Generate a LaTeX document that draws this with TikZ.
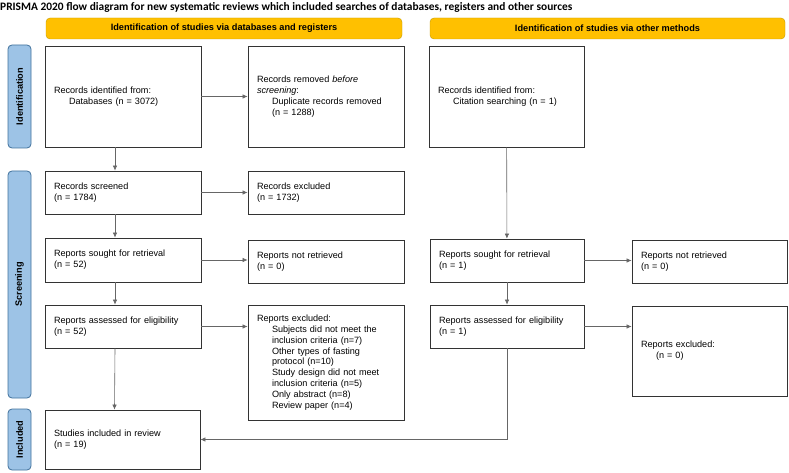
\documentclass[tikz,border=0pt]{standalone}
\usepackage{fontspec}
\setmainfont{Liberation Sans}
\newfontfamily\titlefont{Carlito}
\usetikzlibrary{arrows.meta}
\definecolor{hdryellow}{HTML}{FFC000}
\definecolor{hdrline}{HTML}{C49A00}
\definecolor{sideblue}{HTML}{9DC3E6}
\definecolor{sideline}{HTML}{41719C}
\tikzstyle{box}=[draw=black!80, line width=0.8pt, shape=rectangle, align=left, inner xsep=9pt, font=\fontsize{9.1}{10.8}\selectfont]
\tikzstyle{hdr}=[draw=hdrline, fill=hdryellow, rounded corners=4pt, minimum height=21pt, font=\bfseries\fontsize{9.2}{10.8}\selectfont]
\tikzstyle{side}=[draw=sideline, fill=sideblue, line width=0.8pt, rounded corners=4pt, rotate=90, minimum height=23pt, font=\bfseries\fontsize{9.2}{10}\selectfont]
\tikzstyle{arr}=[draw=black!60, line width=0.6pt, -{Latex[length=5pt,width=4.5pt]}]
\newcommand{\ind}{\hspace*{15pt}}

\begin{document}
\begin{tikzpicture}[x=1pt, y=-1pt]
		\useasboundingbox (0,0) rectangle (789,473);
		\node [anchor=west, inner sep=0pt, font=\titlefont\bfseries\fontsize{11.4}{13}\selectfont] (title) at (0, 7) {PRISMA 2020 flow diagram for new systematic reviews which included searches of databases, registers and other sources};

		\node [style=hdr, minimum width=356pt] (hdrdb) at (224, 28.5) {Identification of studies via databases and registers};
		\node [style=hdr, minimum width=355pt] (hdrother) at (607.5, 28.5) {Identification of studies via other methods};

		\node [style=side, minimum width=103pt] (sideid) at (19.5, 96.5) {Identification};
		\node [style=side, minimum width=227pt] (sidescr) at (19.5, 284.5) {Screening};
		\node [style=side, minimum width=61pt] (sideinc) at (19.5, 439.5) {Included};

		\node [style=box, text width=138pt, minimum height=101pt] (ident) at (123, 96.5) {Records identified from:\\\ind Databases (n = 3072)};
		\node [style=box, text width=138pt, minimum height=101pt] (removed) at (326, 96.5) {Records removed \textit{before}\\\textit{screening}:\\\ind Duplicate records removed\\\ind (n = 1288)};
		\node [style=box, text width=137pt, minimum height=101pt] (citation) at (506.5, 96.5) {Records identified from:\\\ind Citation searching (n = 1)};

		\node [style=box, text width=138pt, minimum height=43pt] (screened) at (123, 192.5) {Records screened\\(n = 1784)};
		\node [style=box, text width=138pt, minimum height=43pt] (excluded) at (326, 192.5) {Records excluded\\(n = 1732)};

		\node [style=box, text width=138pt, minimum height=44pt] (soughtL) at (123, 260) {Reports sought for retrieval\\(n = 52)};
		\node [style=box, text width=138pt, minimum height=43pt] (notretL) at (326, 261.5) {Reports not retrieved\\(n = 0)};
		\node [style=box, text width=136pt, minimum height=43pt] (soughtR) at (507, 260.5) {Reports sought for retrieval\\(n = 1)};
		\node [style=box, text width=137pt, minimum height=43pt] (notretR) at (709.5, 261.5) {Reports not retrieved\\(n = 0)};

		\node [style=box, text width=138pt, minimum height=43pt] (assessL) at (123, 326.5) {Reports assessed for eligibility\\(n = 52)};
		\node [style=box, text width=138pt, minimum height=115pt] (exclL) at (326, 362.5) {Reports excluded:\\\ind Subjects did not meet the\\\ind inclusion criteria (n=7)\\\ind Other types of fasting\\\ind protocol (n=10)\\\ind Study design did not meet\\\ind inclusion criteria (n=5)\\\ind Only abstract (n=8)\\\ind Review paper (n=4)};
		\node [style=box, text width=136pt, minimum height=43pt] (assessR) at (507, 326.5) {Reports assessed for eligibility\\(n = 1)};
		\node [style=box, text width=137pt, minimum height=90pt] (exclR) at (709.5, 351) {Reports excluded:\\\ind (n = 0)};

		\node [style=box, text width=137pt, minimum height=59pt] (incl) at (122.5, 439.5) {Studies included in review\\(n = 19)};

		\draw [style=arr] (ident) to (removed);
		\draw [style=arr] (screened) to (excluded);
		\draw [style=arr] (soughtL.east) to (soughtL.east -| notretL.west);
		\draw [style=arr] (assessL.east) to (assessL.east -| exclL.west);
		\draw [style=arr] (soughtR.east) to (soughtR.east -| notretR.west);
		\draw [style=arr] (assessR.east) to (assessR.east -| exclR.west);

		\draw [style=arr] ([xshift=-8pt]ident.south) to ([xshift=-8pt]screened.north);
		\draw [style=arr] ([xshift=-8pt]screened.south) to ([xshift=-8pt]soughtL.north);
		\draw [style=arr] ([xshift=-8pt]soughtL.south) to ([xshift=-8pt]assessL.north);
		\draw [style=arr] ([xshift=-8pt]assessL.south) to ([xshift=-8pt]incl.north);
		\draw [style=arr] (citation) to (soughtR);
		\draw [style=arr] (soughtR) to (assessR);
		\draw [style=arr] (assessR.south) |- (incl.east);
	\end{tikzpicture}
\end{document}
